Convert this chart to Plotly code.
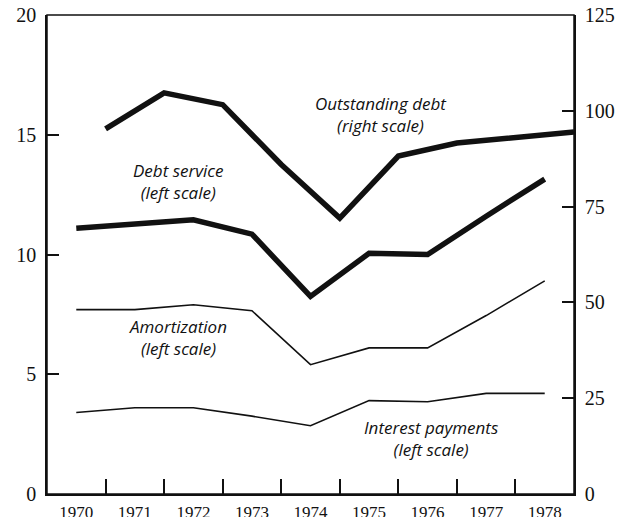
import plotly.graph_objects as go

# Years for the flow series (plotted at mid-year) and for outstanding debt (year end)
years = [1970, 1971, 1972, 1973, 1974, 1975, 1976, 1977, 1978]
debt_years = [1970.5, 1971.5, 1972.5, 1973.5, 1974.5, 1975.5, 1976.5, 1977.5, 1978.5]

# Left scale
debt_service = [11.1, 11.3, 11.45, 10.85, 8.25, 10.05, 10.0, 11.6, 13.15]
amortization = [7.7, 7.7, 7.9, 7.65, 5.4, 6.1, 6.1, 7.45, 8.9]
interest_payments = [3.4, 3.6, 3.6, 3.25, 2.85, 3.9, 3.85, 4.2, 4.2]

# Right scale
outstanding_debt = [95.3, 104.7, 101.6, 86.0, 72.0, 88.2, 91.6, 93.0, 94.5]

left_ticks = [0, 5, 10, 15, 20]
right_ticks = [0, 25, 50, 75, 100, 125]
year_ticks = [1970.5, 1971.5, 1972.5, 1973.5, 1974.5, 1975.5, 1976.5, 1977.5]

INK = "#111111"
SERIF = "Liberation Serif, Times New Roman, serif"
LABEL_FONT = dict(family="Open Sans, sans-serif", size=17, color=INK)

fig = go.Figure()

fig.add_trace(go.Scatter(x=years, y=debt_service, mode="lines",
                         line=dict(color=INK, width=5.5), name="Debt service"))
fig.add_trace(go.Scatter(x=years, y=amortization, mode="lines",
                         line=dict(color=INK, width=1.6), name="Amortization"))
fig.add_trace(go.Scatter(x=years, y=interest_payments, mode="lines",
                         line=dict(color=INK, width=1.6), name="Interest payments"))
# outstanding debt is a year-end stock: own x axis (ticks at year boundaries) and right scale
fig.add_trace(go.Scatter(x=debt_years, y=outstanding_debt, mode="lines",
                         xaxis="x2", yaxis="y2",
                         line=dict(color=INK, width=5.5), name="Outstanding debt"))

labels = [
    ("Outstanding debt<br>(right scale)", 1975.2, 15.85),
    ("Debt service<br>(left scale)", 1971.74, 13.05),
    ("Amortization<br>(left scale)", 1971.74, 6.55),
    ("Interest payments<br>(left scale)", 1976.05, 2.32),
]
for text, x, y in labels:
    fig.add_annotation(x=x, y=y, xref="x", yref="y", text=f"<i>{text}</i>",
                       showarrow=False, font=LABEL_FONT, align="center")

# frame around the plot area (top edge included)
fig.add_shape(type="rect", xref="paper", yref="paper", x0=0, x1=1, y0=0, y1=1,
              line=dict(color=INK, width=1.5), layer="above")

yaxis_style = dict(
    automargin=False,
    ticks="inside",
    ticklen=12,
    tickwidth=1.5,
    tickcolor=INK,
    ticklabelstandoff=5,
    ticklabeloverflow="allow",
    tickfont=dict(family=SERIF, size=20, color=INK),
    showline=True,
    linecolor=INK,
    linewidth=1.5,
    showgrid=False,
    zeroline=False,
)

fig.update_layout(
    width=618,
    height=517,
    margin=dict(l=47, r=44, t=15, b=23),
    paper_bgcolor="white",
    plot_bgcolor="white",
    showlegend=False,
    xaxis=dict(
        automargin=False,
        range=[1969.5, 1978.5],
        tickvals=years,
        ticktext=[str(y) for y in years],
        ticks="",
        ticklabelstandoff=2,
        ticklabeloverflow="allow",
        tickfont=dict(family=SERIF, size=17, color=INK),
        showline=True,
        linecolor=INK,
        linewidth=1.5,
        showgrid=False,
        zeroline=False,
    ),
    xaxis2=dict(
        automargin=False,
        overlaying="x",
        anchor="y2",
        side="bottom",
        range=[1969.5, 1978.5],
        tickvals=year_ticks,
        ticks="inside",
        ticklen=15,
        tickwidth=1.5,
        tickcolor=INK,
        showticklabels=False,
        showline=False,
        showgrid=False,
        zeroline=False,
    ),
    yaxis=dict(range=[0, 20], tickvals=left_ticks, **yaxis_style),
    yaxis2=dict(range=[0, 125], tickvals=right_ticks, overlaying="y", side="right",
                **yaxis_style),
)

# drop the page body's default 8px margin so the figure fills the window exactly
fig.write_html("out.html", config={"displayModeBar": False},
               post_script="document.body.style.margin = '0';")
